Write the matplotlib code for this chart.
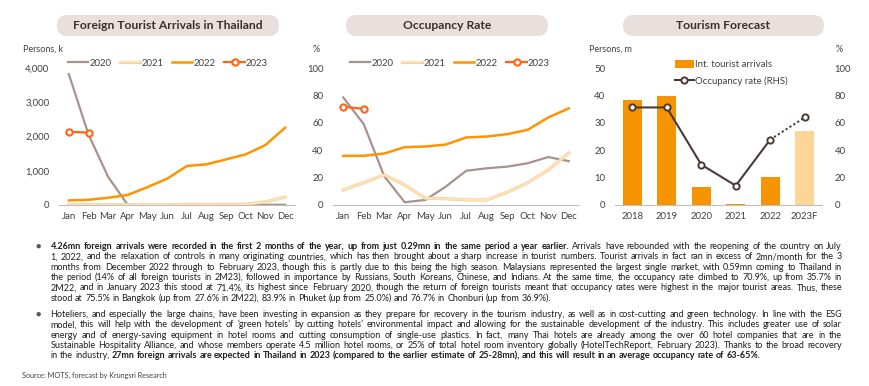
import numpy as np
import matplotlib
matplotlib.use('Agg')
import matplotlib.pyplot as plt
from matplotlib.patches import FancyBboxPatch, Patch
from matplotlib.lines import Line2D
import matplotlib.patheffects as pe

# data
months = ['Jan', 'Feb', 'Mar', 'Apr', 'May', 'Jun', 'Jul', 'Aug', 'Sep', 'Oct', 'Nov', 'Dec']
arrivals_2020 = [3820, 2060, 820, 0, 0, 0, 0, 0, 0, 1, 6, 6]
arrivals_2021 = [10, 6, 7, 9, 5, 5, 19, 17, 18, 21, 91, 230]
arrivals_2022 = [134, 153, 210, 294, 522, 768, 1139, 1187, 1333, 1479, 1752, 2258]
arrivals_2023 = [2141, 2112]

occ_2020 = [78.5, 59, 21, 2, 3.7, 13.4, 25, 26.8, 28, 30.5, 35, 32]
occ_2021 = [11, 16.3, 22, 14.6, 5, 4.6, 3.7, 3.7, 9.3, 16.3, 25.6, 37.8]
occ_2022 = [35.9, 35.9, 37.6, 42.2, 42.7, 44.1, 49.3, 50, 51.7, 54.9, 63.9, 70.5]
occ_2023 = [71.7, 70.2]

years = ['2018', '2019', '2020', '2021', '2022', '2023F']
tourists_m = [38.2, 39.8, 6.7, 0.4, 10.4, 27.0]
occ_rate = [71.2, 71.2, 29.5, 14.1, 47.8, 63.9]

titles = ['Foreign Tourist Arrivals in Thailand', 'Occupancy Rate', 'Tourism Forecast']

para1 = [
    [("4.26mn foreign arrivals were recorded in the first 2 months of the year, up from just 0.29mn in the same period a year earlier.", True),
     ("Arrivals have rebounded with the reopening of the country on July", False)],
    [("1, 2022, and the relaxation of controls in many originating countries, which has then brought about a sharp increase in tourist numbers. Tourist arrivals in fact ran in excess of 2mn/month for the 3", False)],
    [("months from December 2022 through to February 2023, though this is partly due to this being the high season. Malaysians represented the largest single market, with 0.59mn coming to Thailand in", False)],
    [("the period (14% of all foreign tourists in 2M23), followed in importance by Russians, South Koreans, Chinese, and Indians. At the same time, the occupancy rate climbed to 70.9%, up from 35.7% in", False)],
    [("2M22, and in January 2023 this stood at 71.4%, its highest since February 2020, though the return of foreign tourists meant that occupancy rates were highest in the major tourist areas. Thus, these", False)],
    [("stood at 75.5% in Bangkok (up from 27.6% in 2M22), 83.9% in Phuket (up from 25.0%) and 76.7% in Chonburi (up from 36.9%).", False)],
]
para2 = [
    [("Hoteliers, and especially the large chains, have been investing in expansion as they prepare for recovery in the tourism industry, as well as in cost-cutting and green technology. In line with the ESG", False)],
    [("model, this will help with the development of \u2018green hotels\u2019 by cutting hotels\u2019 environmental impact and allowing for the sustainable development of the industry. This includes greater use of solar", False)],
    [("energy and of energy-saving equipment in hotel rooms and cutting consumption of single-use plastics. In fact, many Thai hotels are already among the over 60 hotel companies that are in the", False)],
    [("Sustainable Hospitality Alliance, and whose members operate 4.5 million hotel rooms, or 25% of total hotel room inventory globally (HotelTechReport, February 2023). Thanks to the broad recovery", False)],
    [("in the industry,", False),
     ("27mn foreign arrivals are expected in Thailand in 2023 (compared to the earlier estimate of 25-28mn), and this will result in an average occupancy rate of 63-65%.", True)],
]
source = 'Source: MOTS, forecast by Krungsri Research'

FONT = 'Lato'
W, H = 870, 386
C2020 = '#a8928d'
C2021 = '#fde3bd'
C2022 = '#ff9300'
C2023 = '#ff6414'
CBAR = '#f59300'
CBAR_F = '#fdd597'
CLINE = '#4a3a36'
TXT = '#404040'

plt.rcParams['font.family'] = [FONT, 'DejaVu Sans']

fig = plt.figure(figsize=(W / 100, H / 100), dpi=100)
fig.patch.set_facecolor('white')

ov = fig.add_axes([0, 0, 1, 1])
ov.set_xlim(0, W)
ov.set_ylim(H, 0)
ov.axis('off')


def px_axes(x0, x1, ytop, ybot):
    return fig.add_axes([x0 / W, 1 - ybot / H, (x1 - x0) / W, (ybot - ytop) / H])


def style(ax, ypad=7):
    for s in ['top', 'right', 'left']:
        ax.spines[s].set_visible(False)
    ax.spines['bottom'].set_color('#bfbfbf')
    ax.spines['bottom'].set_linewidth(0.8)
    ax.tick_params(length=0, labelsize=6.9, labelcolor=TXT)
    ax.tick_params(axis='y', pad=ypad)
    ax.tick_params(axis='x', pad=5)


pale = [pe.Stroke(linewidth=2.3, foreground='#f8cd90'), pe.Normal()]

# title pills
for (x0, x1), t in zip([(57, 279), (346, 548), (623, 824)], titles):
    ov.add_patch(FancyBboxPatch((x0, 15), x1 - x0, 21,
                                boxstyle='round,pad=0,rounding_size=10.5',
                                fc='#e9dfdc', ec='none'))
    ov.text((x0 + x1) / 2, 25.5, t, ha='center', va='center', fontsize=8.7,
            fontweight='bold', color='#3a3030')

# chart 1: arrivals
ax1 = px_axes(59, 295, 68, 205)
x = np.arange(len(months))
ax1.plot(x, arrivals_2020, color=C2020, lw=1.6, label='2020')
ax1.plot(x, arrivals_2021, color=C2021, lw=1.4, label='2021', path_effects=pale)
ax1.plot(x, arrivals_2022, color=C2022, lw=1.8, label='2022')
ax1.plot(x[:len(arrivals_2023)], arrivals_2023, color=C2023, lw=1.6, marker='o',
         ms=4.5, mfc='white', mec=C2023, mew=1.5, label='2023')
ax1.set_xlim(-0.5, 11.5)
ax1.set_ylim(0, 4000)
ax1.set_yticks([0, 1000, 2000, 3000, 4000])
ax1.set_yticklabels(['0', '1,000', '2,000', '3,000', '4,000'])
ax1.set_xticks(x)
ax1.set_xticklabels(months)
style(ax1)
ax1.patch.set_alpha(0)
ov.text(23, 49, 'Persons, k', ha='left', va='center', fontsize=6.5, color=TXT)
fig.legend(*ax1.get_legend_handles_labels(), loc='center',
           bbox_to_anchor=(168 / W, 1 - 63 / H), ncol=4, frameon=False,
           fontsize=6.9, handlelength=2.1, handletextpad=0.15, columnspacing=0.9,
           labelcolor=TXT)

# chart 2: occupancy
ax2 = px_axes(333, 579, 68, 205)
ax2.plot(x, occ_2020, color=C2020, lw=1.6, label='2020')
ax2.plot(x, occ_2021, color=C2021, lw=1.4, label='2021', path_effects=pale)
ax2.plot(x, occ_2022, color=C2022, lw=1.8, label='2022')
ax2.plot(x[:len(occ_2023)], occ_2023, color=C2023, lw=1.6, marker='o',
         ms=4.5, mfc='white', mec=C2023, mew=1.5, label='2023')
ax2.set_xlim(-0.5, 11.5)
ax2.set_ylim(0, 100)
ax2.set_yticks(range(0, 101, 20))
ax2.set_xticks(x)
ax2.set_xticklabels(months)
style(ax2)
ax2.patch.set_alpha(0)
ov.text(316, 49, '%', ha='center', va='center', fontsize=6.5, color=TXT)
fig.legend(*ax2.get_legend_handles_labels(), loc='center',
           bbox_to_anchor=(450 / W, 1 - 63 / H), ncol=4, frameon=False,
           fontsize=6.9, handlelength=2.1, handletextpad=0.15, columnspacing=0.9,
           labelcolor=TXT)

# chart 3: forecast
ax3 = px_axes(615, 822, 68, 205)
xb = np.arange(len(years))
bar_colors = [CBAR] * (len(years) - 1) + [CBAR_F]
ax3.bar(xb, tourists_m, width=0.56, color=bar_colors)
ax3.set_xlim(-0.5, 5.5)
ax3.set_ylim(0, 50)
ax3.set_yticks(range(0, 51, 10))
ax3.set_xticks(xb)
ax3.set_xticklabels(years)
style(ax3)
ax3r = ax3.twinx()
ax3r.plot(xb[:-1], occ_rate[:-1], color=CLINE, lw=1.5, marker='o', ms=4.5,
          mfc='white', mec=CLINE, mew=1.4, zorder=3)
ax3r.plot(xb[-2:], occ_rate[-2:], color=CLINE, lw=1.5, ls=(0, (1, 1.2)), zorder=2)
ax3r.plot(xb[-1:], occ_rate[-1:], ls='none', marker='o', ms=4.5, mfc='white',
          mec=CLINE, mew=1.4, zorder=3)
ax3r.set_ylim(0, 100)
ax3r.set_yticks(range(0, 101, 20))
for s in ['top', 'right', 'left', 'bottom']:
    ax3r.spines[s].set_visible(False)
ax3r.tick_params(length=0, labelsize=6.9, labelcolor=TXT, pad=9)
ov.text(589, 49, 'Persons, m', ha='left', va='center', fontsize=6.5, color=TXT)
ov.text(839, 49, '%', ha='center', va='center', fontsize=6.5, color=TXT)
h3 = [Patch(fc=CBAR, ec='none'),
      Line2D([], [], color=CLINE, lw=1.5, marker='o', ms=4.5, mfc='white', mec=CLINE, mew=1.4)]
fig.legend(h3, ['Int. tourist arrivals', 'Occupancy rate (RHS)'], loc='upper left',
           bbox_to_anchor=(668 / W, 1 - 53 / H), frameon=False, fontsize=6.9,
           handlelength=2.0, handleheight=0.9, handletextpad=0.15, labelspacing=0.75,
           labelcolor=TXT, borderpad=0.2)

# body text
renderer = fig.canvas.get_renderer()
X0, X1 = 50.5, 842


def word_width(w, bold, fs):
    t = ov.text(0, 0, w, fontsize=fs, fontweight='bold' if bold else 'normal')
    wd = t.get_window_extent(renderer).width
    t.remove()
    return wd


def natural_width(parts, fs):
    words = [(w, b) for txt, b in parts for w in txt.split()]
    sp = word_width('x x', False, fs) - word_width('xx', False, fs)
    return sum(word_width(w, b, fs) for w, b in words) + sp * (len(words) - 1)


# pick the body size so the widest line just fills the column
base = 6.0
widest = max(natural_width(p, base) for p in para1 + para2)
BODY_FS = base * (X1 - X0) / widest * 0.995
SPACE = word_width('x x', False, BODY_FS) - word_width('xx', False, BODY_FS)


def draw_line(y, parts, justify):
    words = [(w, b) for txt, b in parts for w in txt.split()]
    widths = [word_width(w, b, BODY_FS) for w, b in words]
    gap = (X1 - X0 - sum(widths)) / (len(words) - 1) if justify else SPACE
    xx = X0
    for (w, b), wd in zip(words, widths):
        # baseline alignment keeps words on one line regardless of descenders
        ov.text(xx, y + 2.9, w, ha='left', va='baseline', fontsize=BODY_FS,
                fontweight='bold' if b else 'normal', color='#1e1e1e')
        xx += wd + gap


def draw_para(lines, y0, step=10.35):
    ov.text(38, y0, '\u25cf', ha='center', va='center', fontsize=6.5, color='#555555')
    for i, parts in enumerate(lines):
        draw_line(y0 + i * step, parts, i < len(lines) - 1)


draw_para(para1, 246)
draw_para(para2, 314)
ov.text(22, 375, source, ha='left', va='center', fontsize=5.2, color=TXT)

fig.savefig('out.png', dpi=100, facecolor='white')
